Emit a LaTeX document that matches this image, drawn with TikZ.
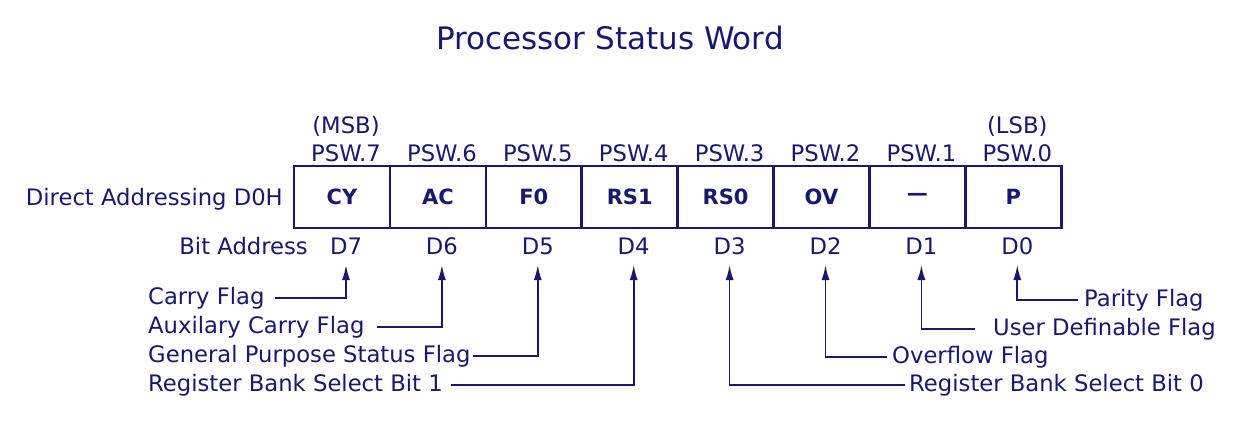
\documentclass[tikz,border=0pt]{standalone}
\usepackage{fontspec}
\setmainfont{DejaVu Sans}
\usetikzlibrary{arrows.meta}
\definecolor{pswblue}{RGB}{24,24,112}
\tikzset{
	pswtext/.style={text=pswblue, font=\fontsize{22.7}{25}\selectfont, inner sep=0pt},
	pswcell/.style={draw=pswblue, line width=2.6pt, minimum width=96pt, minimum height=62pt, inner sep=0pt, text=pswblue, font=\fontsize{21}{24}\selectfont\bfseries},
	flagline/.style={draw=pswblue, line width=1.7pt, -{Latex[length=15pt,width=8pt]}}
}

\begin{document}
\begin{tikzpicture}[x=1pt, y=-1pt]
		%%%%% START %%%%%
		\useasboundingbox (0, 0) rectangle (1260, 434);
		
		\node[pswtext, font=\fontsize{31}{33}\selectfont] (title) at (610, 38) {Processor Status Word};
		
		% register cells, bit labels above and below
		\foreach \n/\t [count=\i from 0] in {7/CY, 6/AC, 5/F0, 4/RS1, 3/RS0, 2/OV, 1/{—}, 0/P} {
			\node[pswcell] (c\n) at (342+95.9*\i, 197) {\t};
			\node[pswtext, anchor=base] (psw\n) at (346+95.9*\i, 161) {PSW.\n};
			\node[pswtext, anchor=base] (d\n) at (346+95.9*\i, 254) {D\n};
			\coordinate (tip\n) at (346+95.9*\i, 265);
		}
		
		\node[pswtext, anchor=base] (msb) at (psw7 |- 0, 133) {(MSB)};
		\node[pswtext, anchor=base] (lsb) at (psw0 |- 0, 133) {(LSB)};
		
		\node[pswtext, anchor=base east] (direct) at (283, 205) {Direct Addressing D0H};
		\node[pswtext, anchor=base east] (bitaddr) at (308, 254) {Bit Address};
		
		% flags on the left
		\node[pswtext, anchor=west] (carry) at (148, 298) {Carry Flag};
		\node[pswtext, anchor=west] (aux) at (148, 327) {Auxilary Carry Flag};
		\node[pswtext, anchor=west] (general) at (148, 356) {General Purpose Status Flag};
		\node[pswtext, anchor=west] (rsone) at (148, 385) {Register Bank Select Bit 1};
		
		\draw[flagline, shorten <=10pt] (carry.east) -| (tip7);
		\draw[flagline, shorten <=12pt] (aux.east) -| (tip6);
		\draw[flagline, shorten <=2pt] (general.east) -| (tip5);
		\draw[flagline, shorten <=8pt] (rsone.east) -| (tip4);
		
		% flags on the right
		\node[pswtext, anchor=west] (parity) at (1084, 300) {Parity Flag};
		\node[pswtext, anchor=west] (user) at (993, 329) {User Definable Flag};
		\node[pswtext, anchor=west] (overflow) at (892, 357) {Overflow Flag};
		\node[pswtext, anchor=west] (rszero) at (909, 385) {Register Bank Select Bit 0};
		
		\draw[flagline, shorten <=6pt] (parity.west) -| (tip0);
		\draw[flagline, shorten <=18pt] (user.west) -| (tip1);
		\draw[flagline, shorten <=5pt] (overflow.west) -| (tip2);
		\draw[flagline, shorten <=4pt] (rszero.west) -| (tip3);
		
		%%%%% END %%%%%
\end{tikzpicture}
\end{document}
